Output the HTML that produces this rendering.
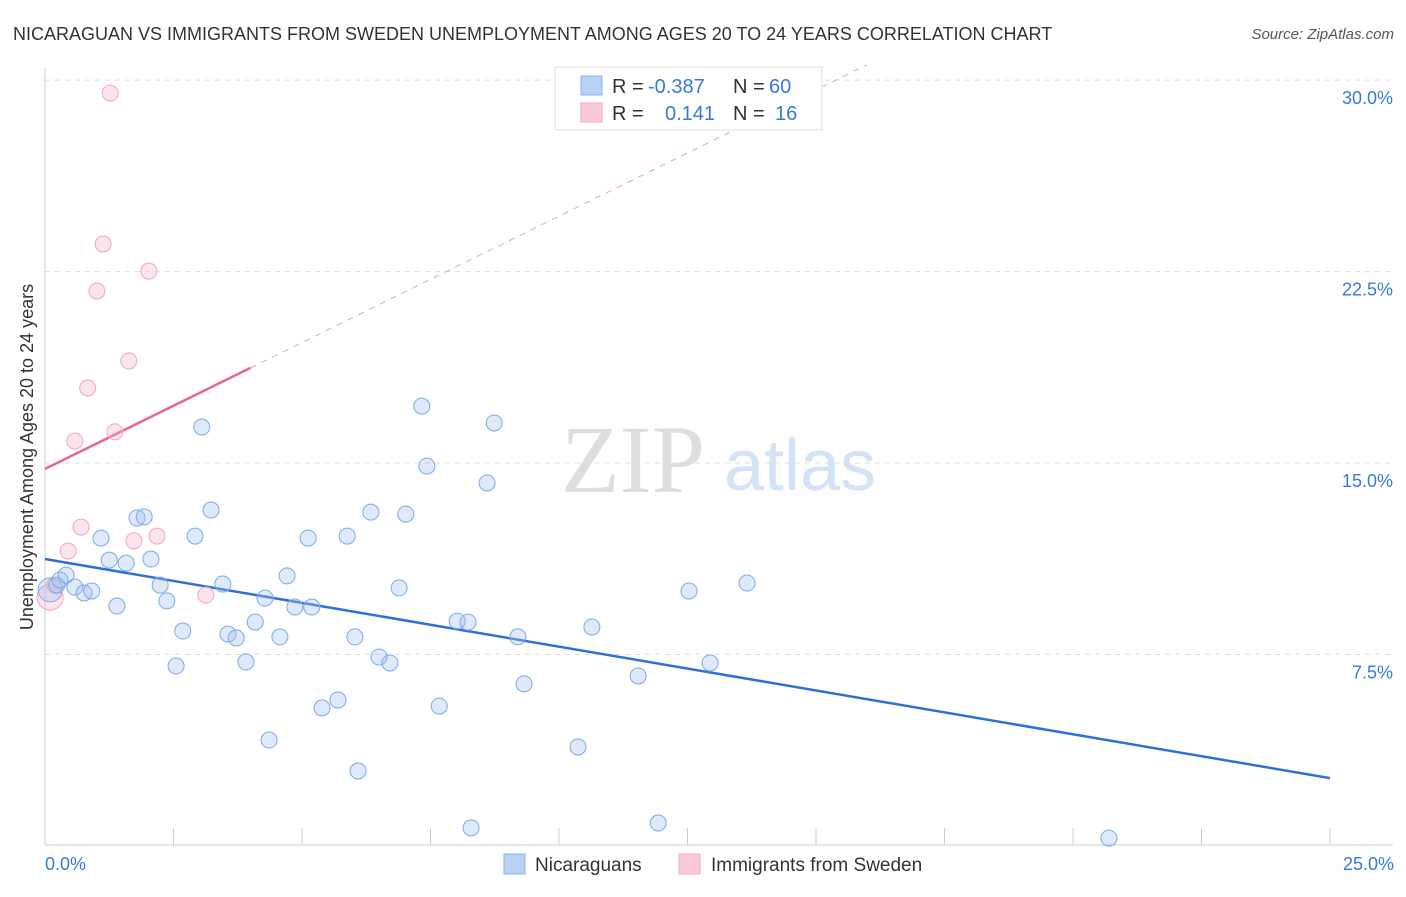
<!DOCTYPE html>
<html><head><meta charset="utf-8"><style>
body{margin:0;background:#fff;font-family:"Liberation Sans",sans-serif}
svg text{font-family:"Liberation Sans",sans-serif}
</style></head><body>
<svg id="c" width="1406" height="892" xmlns="http://www.w3.org/2000/svg">
<text x="13" y="40" font-size="18" fill="#333">NICARAGUAN VS IMMIGRANTS FROM SWEDEN UNEMPLOYMENT AMONG AGES 20 TO 24 YEARS CORRELATION CHART</text>
<text x="1394" y="39" font-size="15" fill="#555" text-anchor="end" font-style="italic">Source: ZipAtlas.com</text>
<text x="33" y="457" font-size="18" fill="#333" text-anchor="middle" transform="rotate(-90 33 457)">Unemployment Among Ages 20 to 24 years</text>
<g><text x="633" y="492" font-size="96" fill="#ddd" text-anchor="middle" font-family="Liberation Serif" style="font-family:'Liberation Serif',serif">ZIP</text><text x="800" y="490" font-size="72" fill="#d4e2f5" text-anchor="middle">atlas</text></g>
<g id="grid"></g><g id="trend"></g><g id="pts"></g>
<g>
<rect x="555" y="67" width="267" height="63" fill="#fff" stroke="#ddd"/>
<rect x="581" y="76" width="21" height="19" fill="#b9d1f5" stroke="#8bb0e8"/>
<rect x="581" y="103" width="21" height="19" fill="#fbc9d8" stroke="#f0a8bf"/>
<text x="612" y="93" font-size="20" fill="#333">R =</text><text x="648" y="93" font-size="20" fill="#3b78d8">-0.387</text>
<text x="733" y="93" font-size="20" fill="#333">N =</text><text x="769" y="93" font-size="20" fill="#3b78d8">60</text>
<text x="612" y="120" font-size="20" fill="#333">R =</text><text x="665" y="120" font-size="20" fill="#3b78d8">0.141</text>
<text x="733" y="120" font-size="20" fill="#333">N =</text><text x="775" y="120" font-size="20" fill="#3b78d8">16</text>
</g>
<g>
<rect x="504" y="854" width="21" height="20" fill="#b9d1f5" stroke="#8bb0e8"/>
<text x="535" y="871" font-size="19" fill="#333">Nicaraguans</text>
<rect x="679" y="854" width="21" height="20" fill="#fbc9d8" stroke="#f0a8bf"/>
<text x="711" y="871" font-size="19" fill="#333">Immigrants from Sweden</text>
</g>
</svg>
<script>
const yTicks=[7.5,15,22.5,30];
const yTickLabels=["7.5%","15.0%","22.5%","30.0%"];
const xEndLabels=["0.0%","25.0%"];
const blueX=[0.1,0.23,0.29,0.41,0.58,0.76,0.91,1.09,1.25,1.40,1.58,1.79,1.93,2.06,2.24,2.37,2.55,2.68,2.92,3.05,3.23,3.46,3.56,3.72,3.91,4.09,4.28,4.36,4.57,4.71,4.86,5.12,5.19,5.39,5.70,5.88,6.03,6.09,6.34,6.50,6.71,6.89,7.02,7.33,7.43,7.67,8.02,8.23,8.29,8.60,8.74,9.20,9.32,10.37,10.64,11.54,11.93,12.53,12.94,13.66,20.70];
const blueY=[10.03,10.22,10.42,10.61,10.14,9.91,9.99,12.06,11.20,9.40,11.08,12.85,12.89,11.24,10.22,9.60,7.05,8.42,12.14,16.41,13.16,10.26,8.30,8.15,7.21,8.77,9.71,4.15,8.19,10.58,9.36,12.06,9.36,5.41,5.72,12.14,8.19,2.94,13.08,7.40,7.17,10.11,13.00,17.23,14.88,5.48,8.81,8.77,0.71,14.22,16.57,8.19,6.35,3.88,8.58,6.66,0.90,9.99,7.17,10.30,0.31];
const pinkX=[0.1,0.19,0.45,0.58,0.70,0.83,1.01,1.13,1.27,1.36,1.63,1.73,2.02,2.18,3.13];
const pinkY=[9.75,10.22,11.55,15.86,12.49,17.94,21.74,23.58,29.49,16.22,19.0,11.95,22.52,12.14,9.83];
const blueTrend=[11.24,2.66];   // y at x=0, x=25
const pinkTrend=[14.77,0.99];   // intercept, slope
const NS="http://www.w3.org/2000/svg";
const X0=45,X1=1330,Y0=846,PY=25.53;
const sx=v=>X0+(X1-X0)*v/25, sy=v=>Y0-v*PY;
function mk(t,a,p){const e=document.createElementNS(NS,t);for(const k in a)e.setAttribute(k,a[k]);p.appendChild(e);return e;}
const grid=document.getElementById('grid'),svg=document.getElementById('c');
yTicks.forEach((t,i)=>{
 const l=mk('line',{x1:45,x2:1393,y1:sy(t),y2:sy(t),stroke:'#ddd','stroke-dasharray':'5,5'},grid);
 
 
 const tx=mk('text',{x:1393,y:sy(t)+24,'font-size':18,fill:'#3b78d8','text-anchor':'end'},grid);
 tx.textContent=yTickLabels[i];
 
 
});
const ax=mk('line',{x1:45,x2:1393,y1:845,y2:845,stroke:'#ccc'},grid);


const ay=mk('line',{x1:45,x2:45,y1:68,y2:845,stroke:'#ccc'},grid);


for(let i=1;i<=10;i++){const t=mk('line',{x1:sx(i*2.5),x2:sx(i*2.5),y1:828,y2:845,stroke:'#ccc'},grid);
 
 }
[[0,'start',45],[25,'end',1394]].forEach((d,i)=>{const t=mk('text',{x:d[2],y:870,'font-size':18,fill:'#3b78d8','text-anchor':d[1]},grid);t.textContent=xEndLabels[i];
 
 });
const tr=document.getElementById('trend');
const bl=mk('line',{x1:sx(0),y1:sy(blueTrend[0]),x2:sx(25),y2:sy(blueTrend[1]),stroke:'#2f6fd6','stroke-width':2.5},tr);


const pe=(30.6-pinkTrend[0])/pinkTrend[1];
const pd=mk('line',{x1:sx(4),y1:sy(pinkTrend[0]+4*pinkTrend[1]),x2:sx(pe),y2:sy(30.6),stroke:'#eea0b8','stroke-width':1,'stroke-dasharray':'6,6'},tr);


const ps=mk('line',{x1:sx(0),y1:sy(pinkTrend[0]),x2:sx(4),y2:sy(pinkTrend[0]+4*pinkTrend[1]),stroke:'#e8648e','stroke-width':2.5},tr);


const pts=document.getElementById('pts');
pinkX.forEach((x,i)=>{const c=mk('circle',{cx:sx(x),cy:sy(pinkY[i]),r:i==0?13:8,fill:'rgba(246,178,200,0.35)',stroke:'#eea7bf','stroke-width':1},pts);
 
 });
blueX.forEach((x,i)=>{const c=mk('circle',{cx:sx(x),cy:sy(blueY[i]),r:i==0?12:8,fill:'rgba(160,192,240,0.35)',stroke:'#7ea8e6','stroke-width':1},pts);
 
 });
</script>
</body></html>
